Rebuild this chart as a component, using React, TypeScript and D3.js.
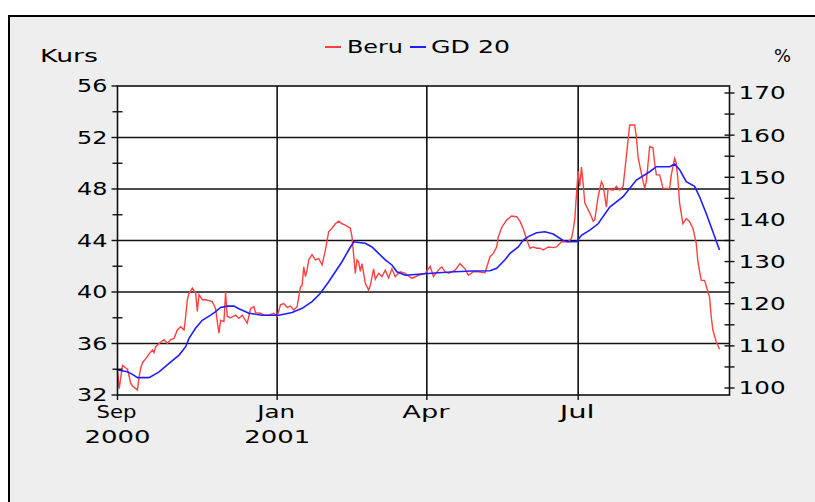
import React, { useRef, useEffect } from 'react';
import * as d3 from 'd3';

// Beru daily close
const beruDates = [
  '2000-09-27', '2000-09-28', '2000-09-30', '2000-10-02', '2000-10-03', '2000-10-05', '2000-10-06', '2000-10-09',
  '2000-10-10', '2000-10-11', '2000-10-12', '2000-10-15', '2000-10-16', '2000-10-18', '2000-10-19', '2000-10-20',
  '2000-10-22', '2000-10-25', '2000-10-27', '2000-10-29', '2000-10-31', '2000-11-02', '2000-11-04', '2000-11-06',
  '2000-11-07', '2000-11-08', '2000-11-09', '2000-11-11', '2000-11-13', '2000-11-14', '2000-11-15', '2000-11-17',
  '2000-11-19', '2000-11-23', '2000-11-25', '2000-11-26', '2000-11-27', '2000-11-28', '2000-11-30', '2000-12-01',
  '2000-12-02', '2000-12-04', '2000-12-07', '2000-12-09', '2000-12-11', '2000-12-14', '2000-12-16', '2000-12-18',
  '2000-12-19', '2000-12-22', '2000-12-24', '2000-12-27', '2000-12-30', '2001-01-01', '2001-01-03', '2001-01-05',
  '2001-01-07', '2001-01-09', '2001-01-11', '2001-01-13', '2001-01-15', '2001-01-16', '2001-01-17', '2001-01-18',
  '2001-01-19', '2001-01-20', '2001-01-22', '2001-01-24', '2001-01-26', '2001-01-28', '2001-01-30', '2001-02-01',
  '2001-02-03', '2001-02-05', '2001-02-07', '2001-02-09', '2001-02-11', '2001-02-14', '2001-02-15', '2001-02-17',
  '2001-02-18', '2001-02-19', '2001-02-20', '2001-02-21', '2001-02-23', '2001-02-25', '2001-02-26', '2001-02-28',
  '2001-03-01', '2001-03-03', '2001-03-05', '2001-03-07', '2001-03-09', '2001-03-11', '2001-03-13', '2001-03-16',
  '2001-03-19', '2001-03-23', '2001-03-27', '2001-03-31', '2001-04-03', '2001-04-05', '2001-04-08', '2001-04-10',
  '2001-04-12', '2001-04-14', '2001-04-18', '2001-04-21', '2001-04-24', '2001-04-26', '2001-04-29', '2001-05-02',
  '2001-05-06', '2001-05-09', '2001-05-11', '2001-05-13', '2001-05-14', '2001-05-16', '2001-05-19', '2001-05-22',
  '2001-05-25', '2001-05-27', '2001-05-29', '2001-05-31', '2001-06-02', '2001-06-04', '2001-06-06', '2001-06-08',
  '2001-06-10', '2001-06-13', '2001-06-16', '2001-06-18', '2001-06-21', '2001-06-25', '2001-06-27', '2001-06-28',
  '2001-06-29', '2001-06-30', '2001-07-01', '2001-07-02', '2001-07-03', '2001-07-04', '2001-07-05', '2001-07-07',
  '2001-07-09', '2001-07-10', '2001-07-11', '2001-07-13', '2001-07-15', '2001-07-16', '2001-07-18', '2001-07-19',
  '2001-07-22', '2001-07-24', '2001-07-26', '2001-07-28', '2001-07-29', '2001-07-31', '2001-08-01', '2001-08-04',
  '2001-08-05', '2001-08-06', '2001-08-08', '2001-08-10', '2001-08-11', '2001-08-13', '2001-08-15', '2001-08-16',
  '2001-08-17', '2001-08-19', '2001-08-21', '2001-08-25', '2001-08-26', '2001-08-28', '2001-08-29', '2001-08-30',
  '2001-08-31', '2001-09-02', '2001-09-04', '2001-09-06', '2001-09-08', '2001-09-10', '2001-09-11', '2001-09-13',
  '2001-09-15', '2001-09-18', '2001-09-19', '2001-09-20', '2001-09-22', '2001-09-24',
];
const beruValues = [
  33.9, 32.5, 34.3, 34.1, 34.0, 32.9, 32.7, 32.4,
  33.4, 34.1, 34.5, 35.0, 35.2, 35.5, 35.3, 35.75,
  36.0, 36.3, 36.0, 36.3, 36.4, 37.05, 37.3, 37.05,
  38.1, 39.4, 39.9, 40.3, 39.9, 38.5, 39.8, 39.4,
  39.4, 39.25, 38.7, 37.7, 36.8, 37.8, 37.7, 40.0,
  38.1, 38.0, 38.2, 37.95, 38.2, 37.57, 38.7, 38.86,
  38.4, 38.35, 38.2, 38.2, 38.35, 38.1, 39.0, 39.1,
  38.8, 38.9, 38.6, 38.86, 40.4, 40.5, 41.96, 41.2,
  41.7, 42.5, 42.9, 42.5, 42.6, 42.1, 43.26, 44.7,
  44.95, 45.3, 45.5, 45.3, 45.2, 44.95, 44.3, 41.45,
  42.5, 42.35, 41.6, 42.2, 40.7, 40.15, 40.5, 41.8,
  41.0, 41.45, 41.2, 41.7, 41.1, 41.8, 41.2, 41.57,
  41.45, 41.06, 41.3, 41.45, 42.0, 41.2, 41.7, 41.96,
  41.57, 41.45, 41.7, 42.2, 41.8, 41.3, 41.57, 41.57,
  41.5, 42.74, 43.0, 43.5, 44.3, 45.0, 45.6, 45.9,
  45.85, 45.5, 44.9, 44.1, 43.4, 43.5, 43.4, 43.4,
  43.26, 43.5, 43.45, 43.5, 43.9, 43.9, 44.17, 44.8,
  45.7, 47.65, 49.4, 48.2, 49.7, 48.4, 46.9, 46.4,
  45.85, 45.5, 45.6, 47.4, 48.57, 48.3, 46.6, 48.0,
  47.9, 48.2, 47.9, 48.2, 49.34, 51.8, 52.97, 52.97,
  52.06, 50.5, 49.2, 48.05, 48.6, 51.3, 51.2, 50.0,
  49.1, 49.1, 48.05, 48.05, 49.1, 50.38, 50.0, 48.7,
  46.9, 45.3, 45.7, 45.46, 44.95, 43.78, 42.35, 40.9,
  40.9, 39.6, 38.1, 37.05, 36.14, 35.55,
];

// GD 20 (20-day average)
const gdDates = [
  '2000-09-27', '2000-10-03', '2000-10-06', '2000-10-09', '2000-10-16', '2000-10-22', '2000-10-28', '2000-11-03',
  '2000-11-07', '2000-11-09', '2000-11-13', '2000-11-17', '2000-11-22', '2000-11-25', '2000-11-28', '2000-12-02',
  '2000-12-06', '2000-12-09', '2000-12-15', '2000-12-23', '2001-01-02', '2001-01-10', '2001-01-16', '2001-01-22',
  '2001-01-27', '2001-02-01', '2001-02-05', '2001-02-09', '2001-02-13', '2001-02-16', '2001-02-19', '2001-02-23',
  '2001-02-27', '2001-03-03', '2001-03-07', '2001-03-11', '2001-03-14', '2001-03-19', '2001-03-29', '2001-04-08',
  '2001-04-18', '2001-04-28', '2001-05-09', '2001-05-13', '2001-05-18', '2001-05-21', '2001-05-26', '2001-05-29',
  '2001-06-01', '2001-06-06', '2001-06-11', '2001-06-16', '2001-06-22', '2001-06-25', '2001-06-30', '2001-07-03',
  '2001-07-08', '2001-07-13', '2001-07-20', '2001-07-28', '2001-08-05', '2001-08-13', '2001-08-17', '2001-08-25',
  '2001-08-28', '2001-08-31', '2001-09-04', '2001-09-09', '2001-09-12', '2001-09-16', '2001-09-20', '2001-09-24',
];
const gdValues = [
  33.94, 33.8, 33.6, 33.35, 33.35, 33.8, 34.46, 35.1,
  35.75, 36.4, 37.2, 37.8, 38.2, 38.47, 38.8, 38.9,
  38.9, 38.7, 38.35, 38.2, 38.2, 38.4, 38.73, 39.25,
  39.9, 40.8, 41.57, 42.35, 43.26, 43.9, 43.85, 43.78,
  43.5, 43.0, 42.5, 42.1, 41.57, 41.3, 41.4, 41.5,
  41.57, 41.63, 41.65, 41.84, 42.5, 43.0, 43.5, 44.04,
  44.3, 44.6, 44.68, 44.5, 44.0, 43.9, 43.9, 44.4,
  44.8, 45.3, 46.6, 47.4, 48.7, 49.34, 49.73, 49.73,
  49.94, 49.5, 48.57, 48.2, 47.4, 46.1, 44.68, 43.26,
];

const kursTicks = [32, 36, 40, 44, 48, 52, 56];
const kursMinor = [34, 38, 42, 46, 50, 54];
const pctTicks = [100, 110, 120, 130, 140, 150, 160, 170];
const pctMinor = [105, 115, 125, 135, 145, 155, 165];
const monthDates = ['2000-09-27', '2001-01-01', '2001-04-01', '2001-07-01'];
const monthLabels = ['Sep', 'Jan', 'Apr', 'Jul'];
const yearLabels = ['2000', '2001', '', ''];

const FONT = '"DejaVu Sans", sans-serif';
// the original uses a wide bitmap font, so labels get stretched to its widths
const monthWidths = [40, 38, 47, 35];
const DIGIT_W = 15.7;

const App = () => {
  const ref = useRef<SVGSVGElement>(null);

  useEffect(() => {
    if (!ref.current) return;
    const svg = d3.select(ref.current);
    svg.selectAll('*').remove();

    const parse = d3.timeParse('%Y-%m-%d');
    const left = 117.5, right = 729.5, top = 86, bottom = 395;

    const x = d3.scaleTime()
      .domain([parse('2000-09-27') as Date, parse('2001-09-30') as Date])
      .range([left, right]);
    const y = d3.scaleLinear().domain([32, 56]).range([bottom, top]);
    const yPct = d3.scaleLinear().domain([100, 170]).range([388, 93]);

    // outer panel
    svg.append('rect')
      .attr('x', 9).attr('y', 16).attr('width', 820).attr('height', 500)
      .attr('fill', '#eeeeee').attr('stroke', '#000').attr('stroke-width', 2);

    // plot background
    svg.append('rect')
      .attr('x', left).attr('y', top).attr('width', right - left).attr('height', bottom - top)
      .attr('fill', '#fff');

    // grid
    const grid = svg.append('g').attr('stroke', '#111').attr('stroke-width', 1.6);
    grid.selectAll('line.h')
      .data(kursTicks.slice(1, -1))
      .enter().append('line')
      .attr('x1', left).attr('x2', right)
      .attr('y1', d => y(d)).attr('y2', d => y(d));
    grid.selectAll('line.v')
      .data(monthDates.slice(1))
      .enter().append('line')
      .attr('x1', d => x(parse(d) as Date)).attr('x2', d => x(parse(d) as Date))
      .attr('y1', top).attr('y2', bottom);

    // series
    const beru = beruDates.map((d, i) => ({ date: parse(d) as Date, value: beruValues[i] }));
    const gd = gdDates.map((d, i) => ({ date: parse(d) as Date, value: gdValues[i] }));
    const line = d3.line<{ date: Date; value: number }>()
      .x(d => x(d.date))
      .y(d => y(d.value));

    svg.append('path').datum(beru)
      .attr('fill', 'none').attr('stroke', '#ff4040').attr('stroke-width', 1.4)
      .attr('d', line);
    svg.append('path').datum(gd)
      .attr('fill', 'none').attr('stroke', '#1e1eff').attr('stroke-width', 1.6)
      .attr('d', line);

    // plot frame
    svg.append('rect')
      .attr('x', left).attr('y', top).attr('width', right - left).attr('height', bottom - top)
      .attr('fill', 'none').attr('stroke', '#111').attr('stroke-width', 1.6);

    const axes = svg.append('g').attr('stroke', '#111').attr('stroke-width', 1.4);

    // left axis ticks
    axes.selectAll('line.lmaj')
      .data(kursTicks)
      .enter().append('line')
      .attr('x1', left - 6).attr('x2', left)
      .attr('y1', d => y(d)).attr('y2', d => y(d));
    axes.selectAll('line.lmin')
      .data(kursMinor)
      .enter().append('line')
      .attr('x1', left - 5).attr('x2', left + 5)
      .attr('y1', d => y(d)).attr('y2', d => y(d));

    // right axis ticks
    axes.selectAll('line.r')
      .data([...pctTicks, ...pctMinor])
      .enter().append('line')
      .attr('x1', right - 5).attr('x2', right + 5)
      .attr('y1', d => yPct(d)).attr('y2', d => yPct(d));

    // bottom ticks
    axes.selectAll('line.b')
      .data(monthDates)
      .enter().append('line')
      .attr('x1', d => x(parse(d) as Date)).attr('x2', d => x(parse(d) as Date))
      .attr('y1', bottom).attr('y2', bottom + 5);

    const txt = svg.append('g')
      .attr('font-family', FONT).attr('font-size', 18).attr('fill', '#000');

    txt.selectAll('text.l')
      .data(kursTicks)
      .enter().append('text')
      .attr('x', left - 10).attr('y', d => y(d))
      .attr('dy', '0.36em').attr('text-anchor', 'end')
      .attr('textLength', d => String(d).length * DIGIT_W - 1)
      .attr('lengthAdjust', 'spacingAndGlyphs')
      .text(d => d);

    txt.selectAll('text.r')
      .data(pctTicks)
      .enter().append('text')
      .attr('x', right + 9).attr('y', d => yPct(d))
      .attr('dy', '0.36em')
      .attr('textLength', d => String(d).length * DIGIT_W)
      .attr('lengthAdjust', 'spacingAndGlyphs')
      .text(d => d);

    txt.selectAll('text.m')
      .data(monthDates)
      .enter().append('text')
      .attr('x', d => x(parse(d) as Date) - 1).attr('y', bottom + 23)
      .attr('text-anchor', 'middle')
      .attr('textLength', (d, i) => monthWidths[i])
      .attr('lengthAdjust', 'spacingAndGlyphs')
      .text((d, i) => monthLabels[i]);

    txt.selectAll('text.yr')
      .data(monthDates.filter((d, i) => yearLabels[i] !== ''))
      .enter().append('text')
      .attr('x', d => x(parse(d) as Date)).attr('y', bottom + 48)
      .attr('text-anchor', 'middle')
      .attr('textLength', (d, i) => yearLabels[i].length * 16.5)
      .attr('lengthAdjust', 'spacingAndGlyphs')
      .text((d, i) => yearLabels[i]);

    txt.append('text').attr('x', 40).attr('y', 62)
      .attr('textLength', 58).attr('lengthAdjust', 'spacingAndGlyphs')
      .text('Kurs');
    txt.append('text').attr('x', 774).attr('y', 62)
      .attr('textLength', 17).attr('lengthAdjust', 'spacingAndGlyphs')
      .text('%');

    // legend
    const legend = svg.append('g');
    legend.append('line')
      .attr('x1', 325).attr('x2', 341).attr('y1', 47).attr('y2', 47)
      .attr('stroke', '#ff4040').attr('stroke-width', 2);
    legend.append('text')
      .attr('x', 347).attr('y', 53)
      .attr('font-family', FONT).attr('font-size', 18).attr('fill', '#000')
      .attr('textLength', 56).attr('lengthAdjust', 'spacingAndGlyphs')
      .text('Beru');
    legend.append('line')
      .attr('x1', 410).attr('x2', 426).attr('y1', 47).attr('y2', 47)
      .attr('stroke', '#1e1eff').attr('stroke-width', 2);
    legend.append('text')
      .attr('x', 431).attr('y', 53)
      .attr('font-family', FONT).attr('font-size', 18).attr('fill', '#000')
      .attr('textLength', 79).attr('lengthAdjust', 'spacingAndGlyphs')
      .text('GD 20');
  }, []);

  return (
    <div style={{ position: 'absolute', left: 0, top: 0 }}>
      <svg ref={ref} width={815} height={502} style={{ display: 'block' }} />
    </div>
  );
};

export default App;
